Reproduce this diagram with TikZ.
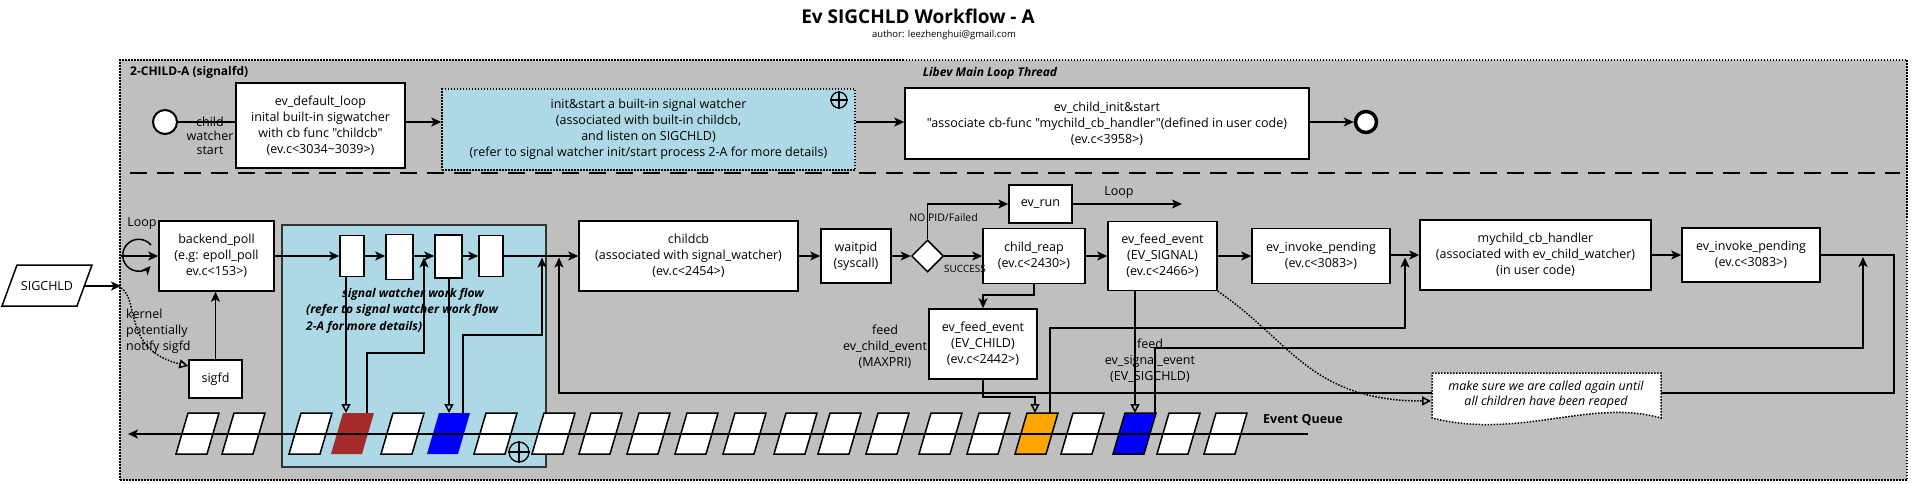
\documentclass[tikz,border=0pt]{standalone}
\usepackage{fontspec}
\setmainfont{Open Sans}[Ligatures=TeXOff]
\usetikzlibrary{arrows.meta,shapes.geometric}
\definecolor{cgray}{HTML}{BFBFBF}
\definecolor{lblue}{HTML}{ADD8E6}
\definecolor{cbrown}{HTML}{A52A2A}
\definecolor{cblue}{HTML}{0000FF}
\definecolor{corange}{HTML}{FFA500}
\newcommand\dqt{\char34\relax}
\begin{document}
\begin{tikzpicture}[x=1pt,y=-1pt,
  font=\fontsize{12.5}{16}\selectfont,
  box/.style={draw, line width=1.5pt, fill=white, align=center, inner sep=0pt},
  lbl/.style={align=center, inner sep=0pt},
  conn/.style={line width=1.5pt, -{Stealth[length=10pt,width=9pt,inset=2.5pt]}},
  plain/.style={line width=1.5pt},
  openarr/.style={line width=1.5pt, -{Triangle[open,length=9pt,width=9pt]}},
  dotline/.style={line width=1.5pt, dash pattern=on 1.5pt off 1.5pt},
  evq/.style={draw, line width=1.5pt, fill=white},
  plus/.style={circle, draw, line width=1.3pt, inner sep=0pt},
  bf/.style={font=\fontsize{12}{16}\selectfont\bfseries},
  bfit/.style={font=\fontsize{12}{16}\selectfont\bfseries\itshape},
]
\useasboundingbox (0,0) rectangle (1912,483);

% titles
\node[font=\fontsize{19}{22}\selectfont\bfseries] (title) at (918,16) {Ev SIGCHLD Workflow - A};
\node[font=\fontsize{9.5}{12}\selectfont] (author) at (944,35) {author: leezhenghui@gmail.com};

% container
\node[dotline, draw, fill=cgray, minimum width=1787pt, minimum height=420pt, inner sep=0pt] (main) at (1013.5,270) {};
\node[bf, anchor=west, inner sep=0pt] (grp) at (130,72) {2-CHILD-A (signalfd)};
\node[bfit, inner sep=0pt] (thread) at (990,73) {Libev Main Loop Thread};
\coordinate (dvL) at (130,173);
\coordinate (dvR) at (1900,173);
\draw[line width=2pt, dash pattern=on 17pt off 10pt] (dvL) -- (dvR);

% ---------- top row ----------
\node[circle, draw, line width=2pt, fill=white, minimum size=24pt, inner sep=0pt] (st) at (165,122) {};
\node[box, minimum width=169pt, minimum height=85pt] (defloop) at (320.5,125.5)
  {ev\_default\_loop\\inital built-in sigwatcher\\with cb func \dqt childcb\dqt\\(ev.c<3034\textasciitilde 3039>)};
\node[box, dotline, fill=lblue, minimum width=413pt, minimum height=81pt] (sigtop) at (648.5,129.5)
  {init\&start a built-in signal watcher\\(associated with built-in childcb,\\and listen on SIGCHLD)\\(refer to signal watcher init/start process 2-A for more details)};
\node[plus, minimum size=16pt] (ot1) at (839,100) {};
\draw[line width=1.3pt] (ot1.north) -- (ot1.south) (ot1.west) -- (ot1.east);
\node[box, minimum width=404pt, minimum height=71pt] (chinit) at (1107,123.5)
  {ev\_child\_init\&start\\\dqt associate cb-func \dqt mychild\_cb\_handler\dqt(defined in user code)\\(ev.c<3958>)};
\node[circle, draw, line width=3.5pt, fill=white, minimum size=21pt, inner sep=0pt] (en) at (1366,122) {};
\node[lbl, font=\fontsize{12.5}{14}\selectfont] (cws) at (210,136) {child\\watcher\\start};

\draw[plain] (st.east) -- (st.east -| defloop.west);
\draw[conn] (defloop.east |- st) -- (sigtop.west |- st);
\draw[conn] (sigtop.east |- st) -- (chinit.west |- st);
\draw[conn] (chinit.east |- en) -- (en.west);

% ---------- bottom section ----------
% SIGCHLD input
\draw[line width=1.5pt, fill=white] (2,306) -- (77,306) -- (92,265) -- (17,265) -- cycle;
\node[inner sep=0pt] (sigchld) at (47,286) {SIGCHLD};
\coordinate (sigR) at (84.5,286);
\coordinate (cin) at (121,286);
\draw[conn] (sigR) -- (cin);

% backend poll
\node[box, minimum width=115pt, minimum height=70pt] (bp) at (216.5,256) {backend\_poll\\(e.g: epoll\_poll\\ev.c<153>)};
\node[inner sep=0pt] (looplbl) at (142,224) {Loop};
\draw[line width=1.5pt, -{Stealth[length=9pt,width=8pt,inset=2.5pt]}] (151,245) arc[start angle=40, end angle=318, radius=16pt];
\coordinate (lin) at (121,256);
\draw[conn] (lin) -- (lin -| bp.west);

% sigfd
\node[box, minimum width=53pt, minimum height=38pt] (sigfd) at (215.5,379) {sigfd};
\draw[conn] (sigfd.north) -- (sigfd.north |- bp.south);
\node[lbl, anchor=west, align=left] (kern) at (126,331) {kernel\\potentially\\notify sigfd};
\coordinate (cin2) at (121,288);
\draw[dotline, -{Triangle[open,length=9pt,width=9pt]}] (cin2) .. controls (140,300) and (122,350) .. ([yshift=13pt]sigfd.west);

% signal watcher work flow box
\node[draw, line width=1.5pt, draw=black!80, fill=lblue, minimum width=264pt, minimum height=242pt, inner sep=0pt] (swf) at (414,346) {};
\node[box, minimum width=24pt, minimum height=41pt] (r1) at (352,256) {};
\node[box, minimum width=27pt, minimum height=45pt] (r2) at (399.5,257) {};
\node[box, minimum width=27pt, minimum height=43pt] (r3) at (448.5,256.5) {};
\node[box, minimum width=24pt, minimum height=41pt] (r4) at (491,256) {};
\node[bfit, inner sep=0pt] (swt1) at (413,294) {signal watcher work flow};
\node[bfit, inner sep=0pt, anchor=west] (swt2) at (306,310) {(refer to signal watcher work flow};
\node[bfit, inner sep=0pt, anchor=west] (swt3) at (306,327) {2-A for more details)};
\node[plus, minimum size=20pt] (ot2) at (519,452) {};
\draw[line width=1.3pt] (ot2.north) -- (ot2.south) (ot2.west) -- (ot2.east);

\draw[conn] (bp.east |- r1) -- (r1.west);
\draw[conn] (r1.east) -- (r1.east -| r2.west);
\draw[conn] (r2.east |- r1) -- (r1 -| r3.west);
\draw[conn] (r3.east |- r1) -- (r1 -| r4.west);

% main row
\node[box, minimum width=219pt, minimum height=70pt] (childcb) at (688.5,256) {childcb\\(associated with signal\_watcher)\\(ev.c<2454>)};
\node[box, minimum width=70pt, minimum height=54pt] (waitpid) at (856,256) {waitpid\\(syscall)};
\node[diamond, draw, line width=1.5pt, fill=white, minimum width=32pt, minimum height=32pt, inner sep=0pt] (dia) at (927.5,256) {};
\node[box, minimum width=102pt, minimum height=55pt] (creap) at (1034,256) {child\_reap\\(ev.c<2430>)};
\node[box, minimum width=63pt, minimum height=38pt] (evrun) at (1040.5,204) {ev\_run};
\node[box, minimum width=109pt, minimum height=69pt] (evsig) at (1162.5,256) {ev\_feed\_event\\(EV\_SIGNAL)\\(ev.c<2466>)};
\node[box, minimum width=138pt, minimum height=55pt] (inv1) at (1321,256) {ev\_invoke\_pending\\(ev.c<3083>)};
\node[box, minimum width=231pt, minimum height=70pt] (mych) at (1535.5,255) {mychild\_cb\_handler\\(associated with ev\_child\_watcher)\\(in user code)};
\node[box, minimum width=138pt, minimum height=54pt] (inv2) at (1751,255) {ev\_invoke\_pending\\(ev.c<3083>)};
\node[box, minimum width=108pt, minimum height=70pt] (evch) at (983,344) {ev\_feed\_event\\(EV\_CHILD)\\(ev.c<2442>)};

\node[inner sep=0pt, font=\fontsize{10.5}{12}\selectfont] (nopid) at (943.5,218) {NO PID/Failed};
\node[inner sep=0pt, font=\fontsize{10}{12}\selectfont] (succ) at (965,269) {SUCCESS};
\node[inner sep=0pt] (loop2) at (1119,193) {Loop};
\coordinate (loopE) at (1182,204);

\draw[conn] (r4.east) -- (r4.east -| childcb.west);
\draw[conn] (childcb.east) -- (waitpid.west);
\draw[conn] (waitpid.east) -- (dia.west);
\draw[conn] (dia.east) -- (creap.west);
\draw[conn] (dia.north) |- (evrun.west);
\draw[conn] (evrun.east) -- (loopE);
\draw[conn] (creap.east) -- (evsig.west);
\draw[conn] (evsig.east) -- (inv1.west);
\draw[conn] (inv1.east |- mych) -- (mych.west);
\draw[conn] (mych.east) -- (inv2.west);
\draw[conn] (creap.south) -- (1034,295) -- (983,295) -- (evch.north);

\node[lbl] (fch) at (885,347) {feed\\ev\_child\_event\\(MAXPRI)};
\node[lbl] (fsig) at (1150,361) {feed\\ev\_signal\_event\\(EV\_SIGCHLD)};

% event queue parallelograms
\foreach \a in {176,222,289,381,474,532,579,627,675,723,774,818,866,919,967,1061,1157,1204}
  \draw[evq] (\a,454) -- ++(31,0) -- ++(12,-41) -- ++(-31,0) -- cycle;
\fill[cbrown] (331,454) -- ++(31,0) -- ++(12,-41) -- ++(-31,0) -- cycle;
\fill[cblue] (427,454) -- ++(31,0) -- ++(12,-41) -- ++(-31,0) -- cycle;
\draw[line width=1.5pt, fill=corange] (1015,454) -- ++(31,0) -- ++(12,-41) -- ++(-31,0) -- cycle;
\draw[line width=1.5pt, fill=cblue] (1113,454) -- ++(31,0) -- ++(12,-41) -- ++(-31,0) -- cycle;
\coordinate (qend) at (1308,434);
\coordinate (qstart) at (128,434);
\draw[conn] (qend) -- (qstart);
\node[bf, font=\fontsize{12.5}{16}\selectfont\bfseries, anchor=west, inner sep=0pt] (evq) at (1263,420) {Event Queue};

% connectors touching the queue
\coordinate (brIn) at (346,413);
\coordinate (brOut) at (367,413);
\coordinate (b1In) at (449,413);
\coordinate (b1Out) at (463,413);
\coordinate (orIn) at (1035,413);
\coordinate (orOut) at (1050,413);
\coordinate (b2In) at (1135,413);
\coordinate (b2Out) at (1155,413);
\coordinate (j1) at (424,257.5);
\coordinate (j2) at (542,257.5);
\coordinate (j3) at (559,257.5);
\coordinate (j4) at (1405,257.5);
\coordinate (j5) at (1863,257);

\draw[openarr] (r1.south -| brIn) -- (brIn);
\draw[openarr] (r3.south -| b1In) -- (b1In);
\draw[conn] (brOut) -- (367,353) -- (424,353) -- (j1);
\draw[conn] (b1Out) -- (463,335) -- (542,335) -- (j2);
\draw[openarr] (evch.south) -- (983,397) -- (1035,397) -- (orIn);
\draw[conn] (orOut) -- (1050,328) -- (1405,328) -- (j4);
\draw[openarr] (evsig.south -| b2In) -- (b2In);
\draw[conn] (b2Out) -- (1155,348) -- (1863,348) -- (j5);

% return path with note
\coordinate (noteE) at (1661,393);
\coordinate (noteW) at (1432,393);
\coordinate (noteA) at (1431,401);
\draw[plain] (inv2.east) -- (1894,255) -- (1894,393) -- (noteE);
\draw[conn] (noteW) -- (559,393) -- (j3);
\draw[dotline, fill=white] (1432,373) -- (1661,373) -- (1661,418) .. controls (1590,398) and (1520,440) .. (1432,418) -- cycle;
\node[lbl, font=\fontsize{12.5}{15}\selectfont\itshape] (note) at (1546,395) {make sure we are called again until\\all children have been reaped};
\draw[dotline, -{Triangle[open,length=9pt,width=9pt]}] (evsig.south east) .. controls (1290,340) and (1310,401) .. (noteA);
\end{tikzpicture}
\end{document}
